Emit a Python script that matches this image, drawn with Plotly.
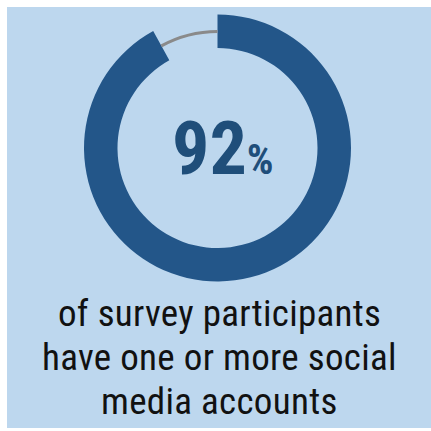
import plotly.graph_objects as go

# Share of survey participants with at least one social media account
labels = ["One or more accounts", "No accounts"]
values = [92, 8]
caption_lines = ["of survey participants", "have one or more social", "media accounts"]

W, H = 431, 431
CONDENSED = "Roboto Condensed, Roboto, sans-serif"

def px_x(x):
    return x / W

def px_y(y):
    return 1 - y / H

# ring geometry in pixels
cx, cy, r_out = 217.5, 148.0, 133.5
r_thin = 118.0

fig = go.Figure()

# thick ring: the 92% share, remainder left transparent
fig.add_trace(go.Pie(
    labels=labels, values=values, sort=False, direction="clockwise", rotation=0,
    hole=100 / r_out, textinfo="none", hoverinfo="label+percent",
    marker=dict(colors=["#235689", "rgba(0,0,0,0)"], line=dict(width=0)),
    domain=dict(x=[px_x(cx - r_out), px_x(cx + r_out)],
                y=[px_y(cy + r_out), px_y(cy - r_out)]),
    showlegend=False,
))

# thin grey arc marking the remainder
fig.add_trace(go.Pie(
    labels=labels, values=values, sort=False, direction="clockwise", rotation=0,
    hole=115 / r_thin, textinfo="none", hoverinfo="skip",
    marker=dict(colors=["rgba(0,0,0,0)", "#8a8a8a"], line=dict(width=0)),
    domain=dict(x=[px_x(cx - r_thin), px_x(cx + r_thin)],
                y=[px_y(cy + r_thin), px_y(cy - r_thin)]),
    showlegend=False,
))

annotations = [dict(
    x=px_x(223), y=px_y(148), xref="paper", yref="paper", showarrow=False,
    xanchor="center", yanchor="middle",
    text=f"<b>{values[0]}</b><b><span style='font-size:42px'>%</span></b>",
    font=dict(family=CONDENSED, size=74, color="#1f4e7a"),
)]

for i, line in enumerate(caption_lines):
    annotations.append(dict(
        x=px_x(cx + 2), y=px_y(313 + 44 * i), xref="paper", yref="paper",
        showarrow=False, xanchor="center", yanchor="middle",
        text=f"<span style='letter-spacing:0.3px'>{line}</span>",
        font=dict(family=CONDENSED, size=37, color="#111111"),
    ))

fig.update_layout(
    width=W, height=H, margin=dict(l=0, r=0, t=0, b=0),
    paper_bgcolor="white", plot_bgcolor="white",
    shapes=[dict(type="rect", xref="paper", yref="paper",
                 x0=px_x(7), x1=1, y0=px_y(428), y1=px_y(7),
                 fillcolor="#bdd7ee", line=dict(width=0), layer="below")],
    annotations=annotations,
)

fig.write_html("out.html")
